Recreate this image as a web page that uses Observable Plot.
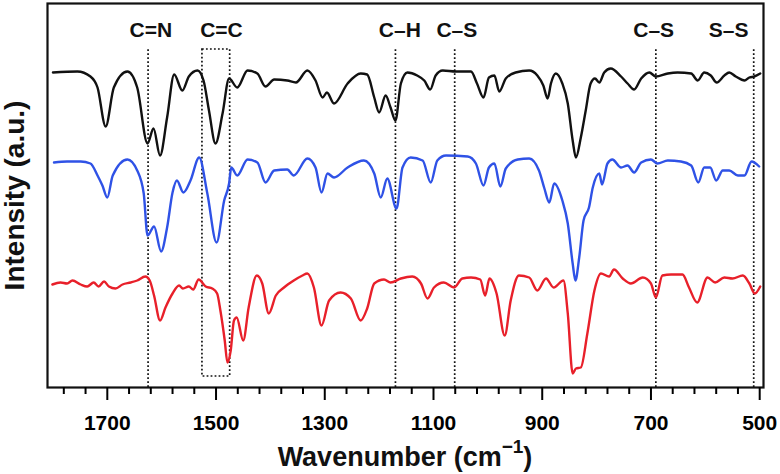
<!DOCTYPE html>
<html><head><meta charset="utf-8">
<script src="https://cdn.jsdelivr.net/npm/d3@7"></script>
<script src="https://cdn.jsdelivr.net/npm/@observablehq/plot@0.6"></script>
<style>body{margin:0;background:#fff} svg{display:block}</style>
</head><body><div id="chart"></div>
<script>
// Black spectrum (top)
const blackWn = [1800,1755,1731,1718,1703,1688,1663,1645,1626,1615,1603,1590,1577,1562,1550,1534,1523,1513,1501,1488,1476,1461,1442,1424,1409,1393,1369,1353,1332,1317,1304,1296,1283,1258,1234,1222,1209,1200,1188,1179,1170,1160,1148,1130,1117,1106,1096,1083,1059,1031,1020,1008,998,988,979,967,949,924,909,898,890,884,875,863,853,844,838,829,820,811,803,795,786,774,755,743,731,718,703,691,669,651,626,614,602,590,579,565,556,544,528,519,510,499];
const blackI = [315,316,311,300,261,300,316,300,244,259,232,270,313,297,311,317,307,277,244,274,309,300,317,314,301,308,307,305,317,307,290,295,284,304,314,313,290,275,292,280,267,304,315,312,307,298,312,317,316,316,304,290,310,312,296,309,315,317,312,302,289,304,314,304,284,247,230,250,277,304,309,305,315,319,311,304,298,309,315,311,314,315,314,307,315,312,305,312,315,311,307,310,311,314];

// Blue spectrum (middle)
const blueWn = [1798,1774,1749,1731,1718,1709,1700,1690,1663,1645,1633,1626,1614,1601,1590,1580,1572,1560,1547,1531,1516,1499,1485,1476,1472,1461,1442,1424,1409,1393,1369,1357,1332,1317,1306,1295,1283,1258,1228,1209,1197,1185,1168,1157,1142,1120,1105,1093,1077,1037,1022,1008,998,988,977,967,945,924,906,896,887,878,863,853,844,839,832,824,814,807,795,790,780,771,755,743,731,718,700,688,669,645,626,613,602,591,580,568,556,540,528,515,501];
const blueI = [225,226,226,224,212,202,190,212,228,217,194,152,161,136,160,195,207,195,207,230,194,145,187,204,220,212,228,225,205,217,218,212,229,220,195,214,210,220,227,214,190,209,179,220,230,227,205,227,232,231,224,202,220,224,201,219,228,229,217,199,185,204,187,164,124,107,130,167,180,200,214,203,224,228,220,222,215,225,228,224,227,226,222,205,220,220,207,217,217,212,212,226,221];

// Red spectrum (bottom)
const redWn = [1801,1786,1774,1764,1749,1737,1725,1716,1706,1697,1685,1672,1657,1645,1630,1622,1614,1603,1593,1580,1568,1561,1550,1542,1532,1519,1507,1498,1492,1484,1479,1473,1467,1462,1450,1440,1425,1415,1403,1390,1375,1357,1341,1332,1320,1306,1292,1271,1252,1234,1222,1209,1191,1179,1160,1139,1123,1111,1099,1081,1062,1047,1031,1014,1005,997,984,969,958,943,924,909,893,879,861,853,844,838,829,817,804,792,777,768,752,737,715,700,691,679,663,642,630,615,596,582,565,550,531,519,509,499];
const redI = [103,105,104,107,103,101,105,101,106,101,99,103,105,107,111,107,92,67,80,94,102,99,101,98,108,101,99,94,77,47,25,37,67,70,47,80,112,104,74,92,100,107,112,114,100,62,87,95,89,67,79,104,108,105,109,111,104,89,100,105,100,109,110,108,92,109,94,52,87,112,110,97,109,100,107,74,14,19,20,54,97,114,111,118,109,104,110,104,90,112,113,113,100,85,110,105,110,109,112,104,94,101];

// Band assignments
const bandLabels = ["C=N","C=C","C–H","C–S","C–S","S–S"];
const bandLabelWn = [1620,1490,1162,1057,695,557];
const bandLineWn = [1625,1170,1061,691,511];
const boxWn = [1525,1474];

// Axis ticks
const majorTicks = [1700,1500,1300,1100,900,700,500];
const minorTicks = [1780,1740,1660,1620,1580,1540,1460,1420,1380,1340,1260,1220,1180,1140,1060,1020,980,940,860,820,780,740,660,620,580,540];

const toRows = (wn, vals) => wn.map((w, i) => ({wn: w, v: vals[i]}));
const font = "'Liberation Sans', Arial, sans-serif";

const plot = Plot.plot({
  width: 780, height: 474,
  marginLeft: 47, marginRight: 17, marginTop: 3, marginBottom: 87,
  style: {fontFamily: font, background: "#fff", color: "#000"},
  x: {domain: [1810, 493], axis: null},
  y: {domain: [0, 384], axis: null},
  marks: [
    Plot.ruleX(bandLineWn, {x: d => d, y1: 0, y2: 339, stroke: "#111", strokeWidth: 1.7, strokeDasharray: "1.8,2.2"}),
    Plot.rect([boxWn], {x1: d => d[0], x2: d => d[1], y1: 11, y2: 338, fill: "none", stroke: "#111", strokeWidth: 1.7, strokeDasharray: "1.8,2.2"}),
    Plot.line(toRows(redWn, redI), {x: "wn", y: "v", stroke: "#e8202a", strokeWidth: 2.4, curve: "monotone-x"}),
    Plot.line(toRows(blueWn, blueI), {x: "wn", y: "v", stroke: "#2f52e6", strokeWidth: 2.4, curve: "monotone-x"}),
    Plot.line(toRows(blackWn, blackI), {x: "wn", y: "v", stroke: "#111", strokeWidth: 2.4, curve: "monotone-x"}),
    Plot.text(bandLabels, {x: (d, i) => bandLabelWn[i], y: 357, text: d => d, fontSize: 21, fontWeight: "bold", fill: "#111"}),
    Plot.frame({stroke: "#111", strokeWidth: 2.2}),
    Plot.axisX(majorTicks, {tickSize: 13, tickPadding: 15, fontSize: 21, fontWeight: "bold", strokeWidth: 2, label: null, tickFormat: d => String(d)}),
    Plot.axisX(minorTicks, {tickSize: 7, strokeWidth: 2, label: null, tickFormat: () => ""}),
    Plot.text(["Intensity (a.u.)"], {frameAnchor: "left", textAnchor: "middle", rotate: -90, dx: -32, fontSize: 28, fontWeight: "bold", fill: "#111"})
  ]
});

const svg = d3.select(plot);
const cx = (47 + 763) / 2;
const t = svg.append("text")
  .attr("x", cx).attr("y", 466)
  .attr("text-anchor", "middle")
  .attr("font-family", font).attr("font-weight", "bold").attr("font-size", 27).attr("fill", "#111");
t.append("tspan").text("Wavenumber (cm");
t.append("tspan").attr("dy", -13).attr("font-size", 19).text("−1");
t.append("tspan").attr("dy", 13).text(")");

document.getElementById("chart").appendChild(plot);
</script>
</body></html>
